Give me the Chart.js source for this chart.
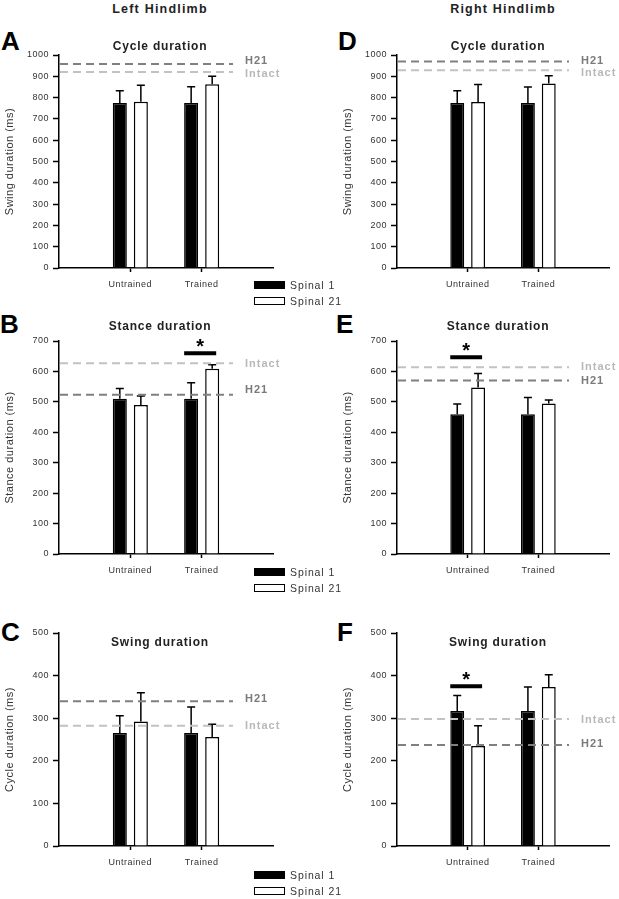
<!DOCTYPE html>
<html>
<head>
<meta charset="utf-8">
<script src="https://cdn.jsdelivr.net/npm/chart.js@4.4.0/dist/chart.umd.min.js"></script>
<style>
body { margin: 0; background: #fff; width: 619px; height: 899px; position: relative; overflow: hidden; font-family: "Liberation Sans", Arial, sans-serif; }
canvas { position: absolute; }
.head { position: absolute; width: 200px; text-align: center; font-weight: bold; font-size: 12.5px; line-height: 15px; letter-spacing: 1.2px; color: #222; }
.letter { position: absolute; font-weight: bold; font-size: 26px; line-height: 26px; color: #000; }
.legend { position: absolute; font-size: 10.5px; color: #333; letter-spacing: 0.9px; z-index: 5; }
.sw { position: absolute; left: 0; width: 31px; height: 8px; box-sizing: border-box; border: 1px solid #000; }
.lt { position: absolute; left: 36px; line-height: 12px; white-space: nowrap; }
</style>
</head>
<body>
<div class="head" style="left:60px;top:1.5px">Left Hindlimb</div>
<div class="head" style="left:403px;top:1.5px">Right Hindlimb</div>

<div class="letter" style="left:1px;top:28px">A</div>
<div class="letter" style="left:0px;top:311px">B</div>
<div class="letter" style="left:1px;top:619px">C</div>
<div class="letter" style="left:338px;top:28px">D</div>
<div class="letter" style="left:336px;top:311px">E</div>
<div class="letter" style="left:337px;top:619px">F</div>

<canvas id="cA" width="310" height="270" style="left:0px;top:30px"></canvas>
<canvas id="cB" width="310" height="270" style="left:0px;top:316px"></canvas>
<canvas id="cC" width="310" height="270" style="left:0px;top:608px"></canvas>
<canvas id="cD" width="281" height="270" style="left:338px;top:30px"></canvas>
<canvas id="cE" width="281" height="270" style="left:338px;top:316px"></canvas>
<canvas id="cF" width="281" height="270" style="left:338px;top:608px"></canvas>

<script>
const categories = ['Untrained', 'Trained'];
const seriesNames = ['Spinal 1', 'Spinal 21'];
const seriesFill = ['#000000', '#ffffff'];

// A - left hindlimb, cycle duration
const leftCycleSpinal1 = [775, 775];
const leftCycleSpinal1Err = [57, 76];
const leftCycleSpinal21 = [781, 863];
const leftCycleSpinal21Err = [77, 37];
const leftCycleH21 = 958;
const leftCycleIntact = 920;

// B - left hindlimb, stance duration
const leftStanceSpinal1 = [510, 510];
const leftStanceSpinal1Err = [34, 53];
const leftStanceSpinal21 = [490, 609];
const leftStanceSpinal21Err = [29, 13];
const leftStanceH21 = 523;
const leftStanceIntact = 627;
const leftStanceSig = [null, 660]; // bar above Trained

// C - left hindlimb, swing duration
const leftSwingSpinal1 = [265, 265];
const leftSwingSpinal1Err = [41, 61];
const leftSwingSpinal21 = [292, 256];
const leftSwingSpinal21Err = [68, 30];
const leftSwingH21 = 340;
const leftSwingIntact = 282;

// D - right hindlimb, cycle duration
const rightCycleSpinal1 = [775, 775];
const rightCycleSpinal1Err = [57, 75];
const rightCycleSpinal21 = [779, 866];
const rightCycleSpinal21Err = [82, 37];
const rightCycleH21 = 970;
const rightCycleIntact = 928;

// E - right hindlimb, stance duration
const rightStanceSpinal1 = [459, 459];
const rightStanceSpinal1Err = [34, 55];
const rightStanceSpinal21 = [547, 495];
const rightStanceSpinal21Err = [46, 11];
const rightStanceH21 = 570;
const rightStanceIntact = 614;
const rightStanceSig = [647, null]; // bar above Untrained

// F - right hindlimb, swing duration
const rightSwingSpinal1 = [317, 317];
const rightSwingSpinal1Err = [36, 56];
const rightSwingSpinal21 = [235, 373];
const rightSwingSpinal21Err = [47, 29];
const rightSwingH21 = 237;
const rightSwingIntact = 298;
const rightSwingSig = [375, null];

const FONT = "'Liberation Sans', Arial, sans-serif";
Chart.defaults.font.family = FONT;

const refStyle = {
    'H21': { line: '#808080', text: '#7a7a7a' },
    'Intact': { line: '#c2c2c2', text: '#b8b8b8' }
};

// one entry per panel, canvas id + what goes in it
const panels = [
    { id: 'cA', title: 'Cycle duration', yTitle: 'Swing duration (ms)', yMax: 1000, titleY: 19.5, padRight: 37,
      s1: leftCycleSpinal1, e1: leftCycleSpinal1Err, s2: leftCycleSpinal21, e2: leftCycleSpinal21Err,
      refs: [['H21', leftCycleH21, -3], ['Intact', leftCycleIntact, 1.5]], sig: null },
    { id: 'cB', title: 'Stance duration', yTitle: 'Stance duration (ms)', yMax: 700, titleY: 14, padRight: 37,
      s1: leftStanceSpinal1, e1: leftStanceSpinal1Err, s2: leftStanceSpinal21, e2: leftStanceSpinal21Err,
      refs: [['Intact', leftStanceIntact, 1], ['H21', leftStanceH21, -4.5]], sig: leftStanceSig },
    { id: 'cC', title: 'Swing duration', yTitle: 'Cycle duration (ms)', yMax: 500, titleY: 37.7, padRight: 37,
      s1: leftSwingSpinal1, e1: leftSwingSpinal1Err, s2: leftSwingSpinal21, e2: leftSwingSpinal21Err,
      refs: [['H21', leftSwingH21, -2], ['Intact', leftSwingIntact, 0]], sig: null },
    { id: 'cD', title: 'Cycle duration', yTitle: 'Swing duration (ms)', yMax: 1000, titleY: 20, padRight: 10,
      s1: rightCycleSpinal1, e1: rightCycleSpinal1Err, s2: rightCycleSpinal21, e2: rightCycleSpinal21Err,
      refs: [['H21', rightCycleH21, 0], ['Intact', rightCycleIntact, 3]], sig: null },
    { id: 'cE', title: 'Stance duration', yTitle: 'Stance duration (ms)', yMax: 700, titleY: 14, padRight: 10,
      s1: rightStanceSpinal1, e1: rightStanceSpinal1Err, s2: rightStanceSpinal21, e2: rightStanceSpinal21Err,
      refs: [['Intact', rightStanceIntact, 0], ['H21', rightStanceH21, 0]], sig: rightStanceSig },
    { id: 'cF', title: 'Swing duration', yTitle: 'Cycle duration (ms)', yMax: 500, titleY: 37.7, padRight: 10,
      s1: rightSwingSpinal1, e1: rightSwingSpinal1Err, s2: rightSwingSpinal21, e2: rightSwingSpinal21Err,
      refs: [['Intact', rightSwingIntact, 1], ['H21', rightSwingH21, -1]], sig: rightSwingSig }
];

// padded labels so the two groups sit at 1/3 and 2/3 of the axis
const labels = [''].concat(categories, ['']);

// error bars, reference lines, significance bar and panel title
function makeExtras(p) {
    return {
        id: 'extras',
        beforeLayout(chart) { chart.ctx.letterSpacing = '0.5px'; },
        beforeDraw(chart) { chart.ctx.letterSpacing = '0.5px'; },
        afterDatasetsDraw(chart) {
            const ctx = chart.ctx;
            const y = chart.scales.y;
            const area = chart.chartArea;
            ctx.save();

            // error bars (upward only)
            [p.e1, p.e2].forEach((errs, di) => {
                const meta = chart.getDatasetMeta(di);
                meta.data.forEach((bar, i) => {
                    const v = chart.data.datasets[di].data[i];
                    if (v == null) return;
                    const top = y.getPixelForValue(v + errs[i - 1]);
                    ctx.strokeStyle = '#000';
                    ctx.lineWidth = 1.5;
                    ctx.beginPath();
                    ctx.moveTo(bar.x, bar.y);
                    ctx.lineTo(bar.x, top);
                    ctx.moveTo(bar.x - 4, top);
                    ctx.lineTo(bar.x + 4, top);
                    ctx.stroke();
                });
            });

            // dashed reference lines
            p.refs.forEach(([name, value, dy]) => {
                const py = y.getPixelForValue(value);
                ctx.setLineDash([8, 5]);
                ctx.lineWidth = 2;
                ctx.strokeStyle = refStyle[name].line;
                ctx.beginPath();
                ctx.moveTo(area.left + 1, py);
                ctx.lineTo(area.right - 40, py);
                ctx.stroke();
                ctx.setLineDash([]);
                ctx.font = 'bold 11px ' + FONT;
                ctx.letterSpacing = '1px';
                ctx.fillStyle = refStyle[name].text;
                ctx.textAlign = 'left';
                ctx.textBaseline = 'middle';
                ctx.fillText(name, area.right - 28, py + dy);
            });

            // significance bar + star
            if (p.sig) {
                p.sig.forEach((value, ci) => {
                    if (value == null) return;
                    const b1 = chart.getDatasetMeta(0).data[ci + 1];
                    const b2 = chart.getDatasetMeta(1).data[ci + 1];
                    const py = y.getPixelForValue(value);
                    const x1 = b1.x - 7, x2 = b2.x + 4;
                    ctx.strokeStyle = '#000';
                    ctx.lineWidth = 4;
                    ctx.beginPath();
                    ctx.moveTo(x1, py);
                    ctx.lineTo(x2, py);
                    ctx.stroke();
                    ctx.font = 'bold 20px ' + FONT;
                    ctx.letterSpacing = '0px';
                    ctx.fillStyle = '#000';
                    ctx.textAlign = 'center';
                    ctx.textBaseline = 'alphabetic';
                    ctx.fillText('*', (x1 + x2) / 2, py);
                });
            }

            // panel title
            ctx.font = 'bold 12px ' + FONT;
            ctx.letterSpacing = '0.8px';
            ctx.fillStyle = '#222';
            ctx.textAlign = 'center';
            ctx.textBaseline = 'alphabetic';
            ctx.fillText(p.title, area.left + 101, p.titleY);
            ctx.restore();
        }
    };
}

panels.forEach((p) => {
    new Chart(p.id, {
        type: 'bar',
        data: {
            labels: labels,
            datasets: [
                { label: seriesNames[0], data: [null].concat(p.s1, [null]), backgroundColor: seriesFill[0],
                  borderColor: '#000', borderWidth: 1.5, categoryPercentage: 0.59, barPercentage: 0.667 },
                { label: seriesNames[1], data: [null].concat(p.s2, [null]), backgroundColor: seriesFill[1],
                  borderColor: '#000', borderWidth: 1.5, categoryPercentage: 0.59, barPercentage: 0.667 }
            ]
        },
        options: {
            responsive: false,
            animation: false,
            layout: { padding: { top: 25, left: 0, right: p.padRight, bottom: 0 } },
            plugins: { legend: { display: false }, tooltip: { enabled: false } },
            scales: {
                x: {
                    offset: false,
                    grid: {
                        drawOnChartArea: false, tickLength: 4, tickWidth: 1.5, offset: false,
                        tickColor: (c) => (c.index === 0 || c.index === labels.length - 1) ? 'rgba(0,0,0,0)' : '#000'
                    },
                    border: { color: '#000', width: 1.5 },
                    ticks: { color: '#333', font: { size: 9 }, padding: 7, maxRotation: 0, autoSkip: false },
                    afterFit(s) { s.height = 32; }
                },
                y: {
                    min: 0,
                    max: p.yMax,
                    grid: { drawOnChartArea: false, tickLength: 6, tickWidth: 1.5, tickColor: '#000' },
                    border: { color: '#000', width: 1.5 },
                    ticks: { stepSize: 100, color: '#333', font: { size: 9 }, padding: 4, callback: (v) => String(v) },
                    title: { display: true, text: p.yTitle, color: '#333', font: { size: 11 }, padding: { top: 3, bottom: 0 } },
                    afterFit(s) { s.width = 59; }
                }
            }
        },
        plugins: [makeExtras(p)]
    });
});

// legends (same two series everywhere)
function addLegend(left, top) {
    const box = document.createElement('div');
    box.className = 'legend';
    box.style.left = left + 'px';
    box.style.top = top + 'px';
    seriesNames.forEach((name, i) => {
        const sw = document.createElement('div');
        sw.className = 'sw';
        sw.style.top = (i * 15.7) + 'px';
        sw.style.background = seriesFill[i];
        const t = document.createElement('div');
        t.className = 'lt';
        t.style.top = (i * 15.7 - 1.6) + 'px';
        t.textContent = name;
        box.appendChild(sw);
        box.appendChild(t);
    });
    document.body.appendChild(box);
}
addLegend(254, 281);
addLegend(254, 568);
addLegend(254, 871);
</script>
</body>
</html>
